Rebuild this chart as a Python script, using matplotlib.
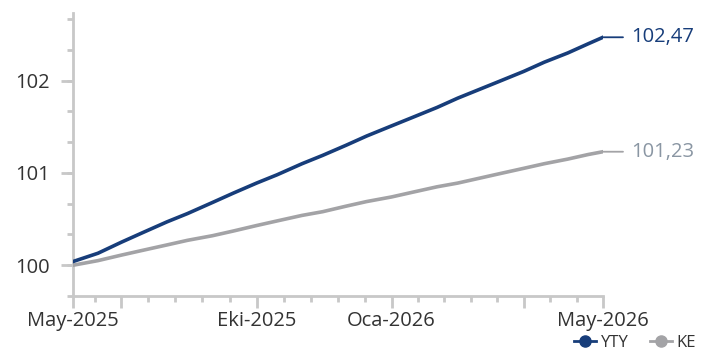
import matplotlib
matplotlib.use("Agg")
import matplotlib.pyplot as plt
import matplotlib.dates as mdates
from matplotlib.lines import Line2D
import numpy as np
import datetime as dt

plt.rcParams['font.family'] = ['Open Sans', 'DejaVu Sans']

dates = ["2025-05-29", "2025-06-15", "2025-07-01", "2025-07-15", "2025-08-01",
         "2025-08-15", "2025-09-01", "2025-09-15", "2025-10-01", "2025-10-15",
         "2025-11-01", "2025-11-15", "2025-12-01", "2025-12-15", "2026-01-01",
         "2026-01-15", "2026-02-01", "2026-02-15", "2026-03-01", "2026-03-15",
         "2026-04-01", "2026-04-15", "2026-05-01", "2026-05-15", "2026-05-25"]
yty = [100.04, 100.13, 100.25, 100.35, 100.47, 100.56, 100.68, 100.78, 100.89, 100.98,
       101.10, 101.19, 101.30, 101.40, 101.51, 101.60, 101.71, 101.81, 101.90, 101.99,
       102.10, 102.20, 102.30, 102.40, 102.47]
ke = [100.00, 100.05, 100.11, 100.16, 100.22, 100.27, 100.32, 100.37, 100.43, 100.48,
      100.54, 100.58, 100.64, 100.69, 100.74, 100.79, 100.85, 100.89, 100.94, 100.99,
      101.05, 101.10, 101.15, 101.20, 101.23]
series_names = ["YTY", "KE"]
end_labels = ["102,47", "101,23"]
y_ticks = [100, 101, 102]
x_major = ["2025-05-29", "2025-07-01", "2025-10-01", "2026-01-01", "2026-04-01", "2026-05-25"]
x_major_labels = ["May-2025", "", "Eki-2025", "Oca-2026", "", "May-2026"]

BLUE = "#173d7a"
GREY = "#a3a3a6"
LABEL_GREY = "#8a96a3"
AXIS = "#c8c8c8"
TXT = "#333333"

d = [mdates.date2num(dt.date.fromisoformat(s)) for s in dates]
xm = [mdates.date2num(dt.date.fromisoformat(s)) for s in x_major]

fig = plt.figure(figsize=(7.09, 3.51), dpi=100)
ax = fig.add_axes([73/709, 1-296/351, (603-73)/709, (296-13)/351])

ax.plot(d, ke, color=GREY, lw=2.6, solid_joinstyle='round', zorder=3)
ax.plot(d, yty, color=BLUE, lw=2.6, solid_joinstyle='round', zorder=4)

ax.set_xlim(d[0], d[-1])
ax.set_ylim(99.667, 102.733)

for sp in ['top', 'right']:
    ax.spines[sp].set_visible(False)
for sp in ['left', 'bottom']:
    ax.spines[sp].set_color(AXIS)
    ax.spines[sp].set_linewidth(2)

ax.set_yticks(y_ticks)
ax.set_yticks(np.arange(99.6667, 102.7, 1/3), minor=True)
ax.set_yticklabels([str(v) for v in y_ticks])
ax.set_xticks(xm)
ax.set_xticklabels(x_major_labels)
q_bounds = ["2025-04-01", "2025-07-01", "2025-10-01", "2026-01-01", "2026-04-01", "2026-07-01"]
qb = [mdates.date2num(dt.date.fromisoformat(s)) for s in q_bounds]
minors = []
for a, b in zip(qb[:-1], qb[1:]):
    for k in range(1, 5):
        v = a + (b - a) * k / 5
        if d[0] <= v <= d[-1]:
            minors.append(v)
ax.set_xticks(minors, minor=True)

ax.tick_params(axis='both', which='major', length=8.5, width=2, color=AXIS,
               labelsize=14.5, labelcolor=TXT)
ax.tick_params(axis='both', which='minor', length=4.2, width=2, color=AXIS)
ax.tick_params(axis='y', which='major', pad=8)
ax.tick_params(axis='x', which='major', pad=2)

for vals, col, lab, lcol in [(yty, BLUE, end_labels[0], BLUE), (ke, GREY, end_labels[1], LABEL_GREY)]:
    ax.annotate("", xy=(d[-1], vals[-1]), xytext=(20, 0), textcoords='offset pixels',
                arrowprops=dict(arrowstyle='-', color=col, lw=1.3, shrinkA=0, shrinkB=0),
                annotation_clip=False)
    ax.annotate(lab, xy=(d[-1], vals[-1]), xytext=(28, 0), textcoords='offset pixels',
                va='center', ha='left', color=lcol, fontsize=14.5, annotation_clip=False)

handles = [Line2D([0], [0], color=BLUE, lw=2, marker='o', markersize=8),
           Line2D([0], [0], color=GREY, lw=2, marker='o', markersize=8)]
fig.legend(handles, series_names, loc='center right', bbox_to_anchor=(0.982, 0.022),
           ncol=2, frameon=False, fontsize=12, handlelength=1.3, handletextpad=0.3,
           columnspacing=1.3, labelcolor=TXT, borderpad=0, borderaxespad=0)

fig.savefig("out.png", dpi=100)
